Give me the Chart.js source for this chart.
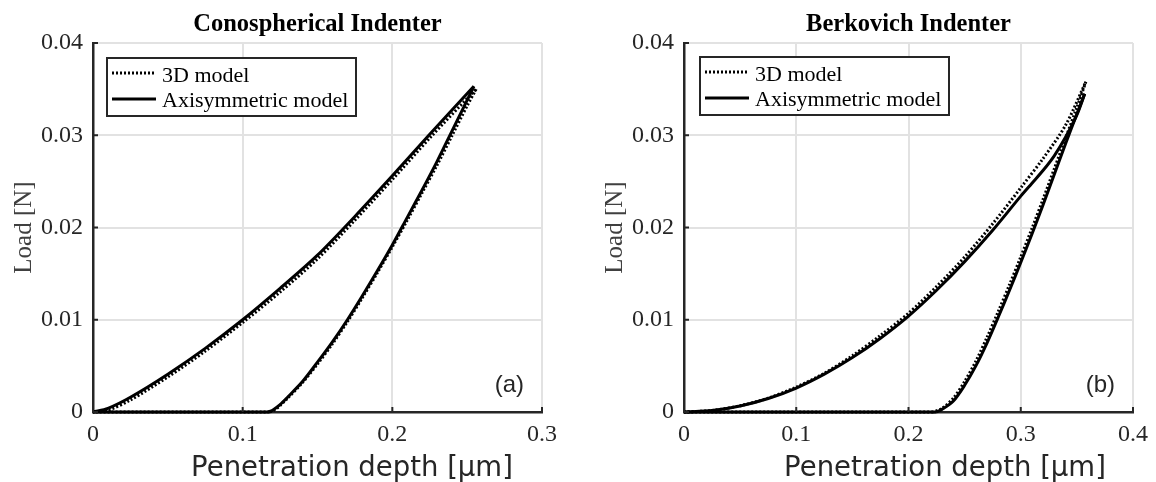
<!DOCTYPE html>
<html>
<head>
<meta charset="utf-8">
<script src="https://cdn.jsdelivr.net/npm/chart.js@4.4.0/dist/chart.umd.min.js"></script>
<style>
html,body{margin:0;padding:0;background:#fff;}
#wrap{position:relative;width:1156px;height:482px;}
.c{position:absolute;top:0;width:578px;height:482px;}
</style>
</head>
<body>
<div id="wrap">
  <div class="c" style="left:0"><canvas id="cA" width="578" height="482"></canvas></div>
  <div class="c" style="left:578px"><canvas id="cB" width="578" height="482"></canvas></div>
</div>
<script>
// ---------- Data (depth in µm, load in N) ----------
// Conospherical indenter
const conoAxiLoadDepth   = [0, 0.01, 0.025, 0.05, 0.075, 0.1, 0.125, 0.15, 0.175, 0.2, 0.225, 0.2545];
const conoAxiLoadForce   = [0, 0.0004, 0.0016, 0.0041, 0.0069, 0.0100, 0.0134, 0.0170, 0.0212, 0.0256, 0.0301, 0.0353];
const conoAxiUnloadDepth = [0.2545, 0.25, 0.24, 0.23, 0.22, 0.21, 0.2, 0.19, 0.18, 0.17, 0.16, 0.15, 0.14, 0.13, 0.125, 0.12, 0.117];
const conoAxiUnloadForce = [0.0353, 0.0338, 0.0305, 0.0272, 0.0241, 0.0211, 0.0181, 0.0153, 0.0126, 0.0100, 0.0076, 0.0054, 0.0033, 0.0016, 0.0008, 0.0002, 0];
const conoAxiResidDepth  = [0.117, 0];
const conoAxiResidForce  = [0, 0];

const cono3DLoadDepth    = [0, 0.01, 0.025, 0.05, 0.075, 0.1, 0.125, 0.15, 0.175, 0.2, 0.225, 0.256];
const cono3DLoadForce    = [0, 0.0002, 0.0013, 0.0038, 0.0066, 0.0097, 0.0130, 0.0166, 0.0208, 0.0252, 0.0297, 0.0350];
const cono3DUnloadDepth  = [0.256, 0.25, 0.24, 0.23, 0.22, 0.21, 0.2, 0.19, 0.18, 0.17, 0.16, 0.15, 0.14, 0.13, 0.125, 0.121, 0.118];
const cono3DUnloadForce  = [0.0350, 0.0332, 0.0300, 0.0268, 0.0238, 0.0208, 0.0179, 0.0151, 0.0124, 0.0098, 0.0074, 0.0052, 0.0032, 0.0015, 0.0007, 0.0002, 0];
const cono3DResidDepth   = [0.118, 0];
const cono3DResidForce   = [0, 0];

// Berkovich indenter
const berkAxiLoadDepth   = [0, 0.025, 0.05, 0.075, 0.1, 0.125, 0.15, 0.175, 0.2, 0.225, 0.25, 0.275, 0.3, 0.31, 0.32, 0.33, 0.34, 0.35, 0.357];
const berkAxiLoadForce   = [0, 0.00016, 0.00065, 0.00146, 0.0026, 0.0041, 0.0059, 0.0080, 0.0104, 0.0132, 0.0163, 0.0197, 0.0234, 0.0248, 0.0262, 0.0278, 0.0298, 0.0322, 0.0345];
const berkAxiUnloadDepth = [0.357, 0.35, 0.34, 0.33, 0.32, 0.31, 0.3, 0.29, 0.28, 0.27, 0.26, 0.25, 0.24, 0.23, 0.225];
const berkAxiUnloadForce = [0.0345, 0.0323, 0.0291, 0.0258, 0.0225, 0.0193, 0.0162, 0.0132, 0.0103, 0.0075, 0.0050, 0.0029, 0.0012, 0.0003, 0];
const berkAxiResidDepth  = [0.225, 0];
const berkAxiResidForce  = [0, 0];

const berk3DLoadDepth    = [0, 0.025, 0.05, 0.075, 0.1, 0.125, 0.15, 0.175, 0.2, 0.225, 0.25, 0.275, 0.3, 0.32, 0.34, 0.358];
const berk3DLoadForce    = [0, 0.00017, 0.00068, 0.0015, 0.0027, 0.0042, 0.0061, 0.0083, 0.0107, 0.0136, 0.0168, 0.0204, 0.0243, 0.0275, 0.0311, 0.0358];
const berk3DUnloadDepth  = [0.358, 0.35, 0.34, 0.33, 0.32, 0.31, 0.3, 0.29, 0.28, 0.27, 0.26, 0.25, 0.24, 0.23, 0.222];
const berk3DUnloadForce  = [0.0358, 0.0330, 0.0297, 0.0264, 0.0231, 0.0199, 0.0168, 0.0138, 0.0109, 0.0081, 0.0055, 0.0033, 0.0015, 0.0004, 0];
const berk3DResidDepth   = [0.222, 0];
const berk3DResidForce   = [0, 0];

// Tick labels
const conoXTicks = ['0', '0.1', '0.2', '0.3'];
const berkXTicks = ['0', '0.1', '0.2', '0.3', '0.4'];
const loadYTicks = ['0', '0.01', '0.02', '0.03', '0.04'];

const seriesNames = ['3D model', 'Axisymmetric model'];
const xTitle = 'Penetration depth [\u00b5m]';
const yTitle = 'Load [N]';

// ---------- helpers ----------
const zip = (xs, ys) => xs.map((x, i) => ({x: x, y: ys[i]}));
const INK = '#262626';

function lineDs(xs, ys, dotted, tension) {
  return {
    data: zip(xs, ys),
    showLine: true,
    borderColor: '#000',
    borderWidth: 3,
    borderDash: dotted ? [2, 2] : [],
    borderCapStyle: 'butt',
    pointRadius: 0,
    tension: tension,
    clip: false,
    fill: false
  };
}

function decorPlugin(cfg) {
  return {
    id: 'decor',
    afterDraw(chart) {
      const ctx = chart.ctx, a = chart.chartArea;
      const xs = chart.scales.x, ys = chart.scales.y;
      ctx.save();
      // inward tick marks
      ctx.strokeStyle = INK; ctx.lineWidth = 2; ctx.setLineDash([]);
      xs.ticks.forEach(t => {
        const px = xs.getPixelForValue(t.value);
        ctx.beginPath(); ctx.moveTo(px, a.bottom); ctx.lineTo(px, a.bottom - 5); ctx.stroke();
      });
      ys.ticks.forEach(t => {
        const py = ys.getPixelForValue(t.value);
        ctx.beginPath(); ctx.moveTo(a.left, py); ctx.lineTo(a.left + 5, py); ctx.stroke();
      });
      // title
      ctx.fillStyle = '#000';
      ctx.font = 'bold 24.5px "Liberation Serif"';
      ctx.textAlign = 'center'; ctx.textBaseline = 'alphabetic';
      ctx.fillText(cfg.title, (a.left + a.right) / 2, 31);
      // y title
      ctx.save();
      ctx.translate(a.left - 62, (a.top + a.bottom) / 2);
      ctx.rotate(-Math.PI / 2);
      ctx.font = '25px "Liberation Serif"';
      ctx.fillStyle = '#404040';
      ctx.textAlign = 'center'; ctx.textBaseline = 'alphabetic';
      ctx.fillText(yTitle, 0, 0);
      ctx.restore();
      // x title
      ctx.font = '27.5px "DejaVu Sans"';
      ctx.fillStyle = INK;
      ctx.textAlign = 'center'; ctx.textBaseline = 'alphabetic';
      ctx.fillText(xTitle, cfg.xTitleX, 476);
      // panel label
      ctx.font = '24px "Liberation Sans"';
      ctx.textAlign = 'right';
      ctx.fillText(cfg.panel, a.right - 18, 392);
      // legend
      const L = cfg.legend;
      ctx.fillStyle = '#fff';
      ctx.fillRect(L.x, L.y, L.w, L.h);
      ctx.strokeStyle = INK; ctx.lineWidth = 2;
      ctx.strokeRect(L.x, L.y, L.w, L.h);
      ctx.strokeStyle = '#000'; ctx.lineWidth = 3; ctx.lineCap = 'butt';
      ctx.setLineDash([2, 2]);
      ctx.beginPath(); ctx.moveTo(L.x + 5, L.y + 15); ctx.lineTo(L.x + 49, L.y + 15); ctx.stroke();
      ctx.setLineDash([]);
      ctx.beginPath(); ctx.moveTo(L.x + 5, L.y + 41); ctx.lineTo(L.x + 49, L.y + 41); ctx.stroke();
      ctx.fillStyle = '#000';
      ctx.font = '22px "Liberation Serif"';
      ctx.textAlign = 'left'; ctx.textBaseline = 'alphabetic';
      ctx.fillText(seriesNames[0], L.x + 55, L.y + 24);
      ctx.fillText(seriesNames[1], L.x + 55, L.y + 49);
      ctx.restore();
    }
  };
}

function makeChart(id, o) {
  const tickFont = {family: '"Liberation Serif"', size: 24};
  return new Chart(document.getElementById(id), {
    type: 'scatter',
    data: {datasets: o.datasets},
    options: {
      responsive: false,
      devicePixelRatio: 1,
      animation: false,
      events: [],
      layout: {padding: {top: 43, right: o.padRight, left: 0, bottom: 0}},
      plugins: {legend: {display: false}, tooltip: {enabled: false}, title: {display: false}},
      scales: {
        x: {
          type: 'linear', min: 0, max: o.xMax,
          ticks: {stepSize: 0.1, font: tickFont, color: INK, padding: 8,
                  callback: (v, i) => o.xTicks[i]},
          grid: {color: '#e2e2e2', lineWidth: 2, drawTicks: false},
          border: {color: INK, width: 2.5},
          afterFit: s => { s.height = 70; }
        },
        y: {
          type: 'linear', min: 0, max: 0.04,
          ticks: {stepSize: 0.01, font: tickFont, color: INK, padding: 10,
                  callback: (v, i) => loadYTicks[i]},
          grid: {color: '#e2e2e2', lineWidth: 2, drawTicks: false},
          border: {color: INK, width: 2.5},
          afterFit: s => { s.width = o.yWidth; }
        }
      }
    },
    plugins: [decorPlugin(o.decor)]
  });
}

makeChart('cA', {
  xMax: 0.3, xTicks: conoXTicks, padRight: 36, yWidth: 93,
  datasets: [
    lineDs(cono3DLoadDepth, cono3DLoadForce, true, 0.3),
    lineDs(cono3DUnloadDepth, cono3DUnloadForce, true, 0.3),
    lineDs(cono3DResidDepth, cono3DResidForce, true, 0),
    lineDs(conoAxiLoadDepth, conoAxiLoadForce, false, 0.3),
    lineDs(conoAxiUnloadDepth, conoAxiUnloadForce, false, 0.3),
    lineDs(conoAxiResidDepth, conoAxiResidForce, false, 0)
  ],
  decor: {title: 'Conospherical Indenter', xTitleX: 352, panel: '(a)',
          legend: {x: 107, y: 58, w: 249, h: 58}}
});

makeChart('cB', {
  xMax: 0.4, xTicks: berkXTicks, padRight: 21, yWidth: 106,
  datasets: [
    lineDs(berk3DLoadDepth, berk3DLoadForce, true, 0.3),
    lineDs(berk3DUnloadDepth, berk3DUnloadForce, true, 0.3),
    lineDs(berk3DResidDepth, berk3DResidForce, true, 0),
    lineDs(berkAxiLoadDepth, berkAxiLoadForce, false, 0.3),
    lineDs(berkAxiUnloadDepth, berkAxiUnloadForce, false, 0.3),
    lineDs(berkAxiResidDepth, berkAxiResidForce, false, 0)
  ],
  decor: {title: 'Berkovich Indenter', xTitleX: 367, panel: '(b)',
          legend: {x: 122, y: 57, w: 249, h: 58}}
});
</script>
</body>
</html>
